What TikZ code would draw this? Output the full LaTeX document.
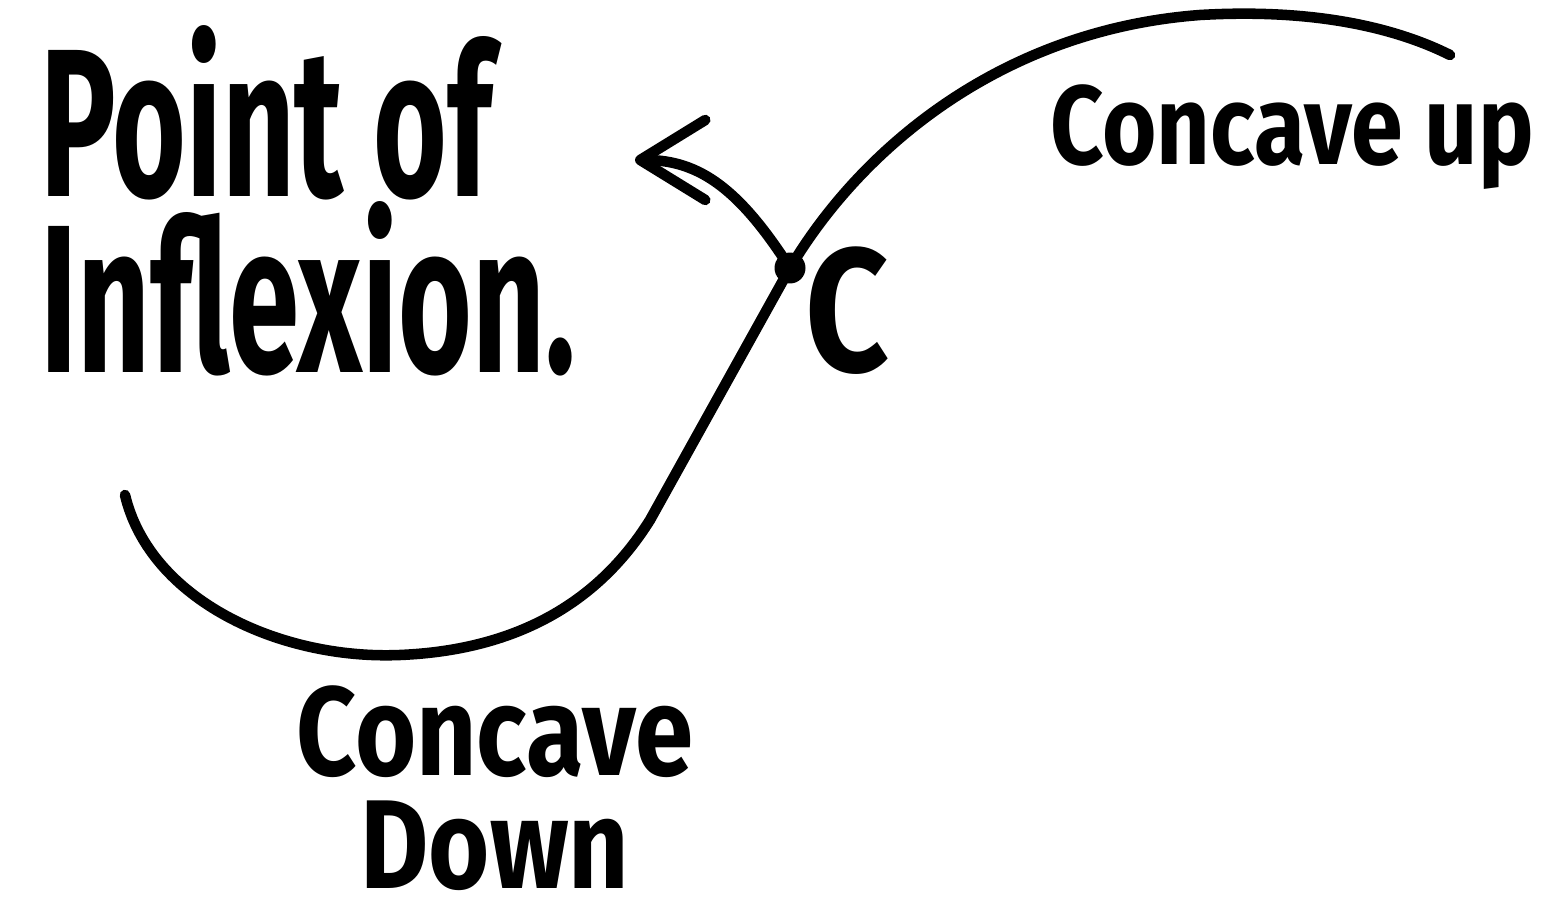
\documentclass[tikz,border=0pt]{standalone}
\usepackage{fontspec}
\newfontfamily\handfont[FakeStretch=0.6]{Fira Sans}
\newfontfamily\widehand[FakeStretch=0.83]{Fira Sans}
\usetikzlibrary{arrows.meta}

\begin{document}
\begin{tikzpicture}[x=0.02cm,y=-0.02cm,
	curve/.style={line width=6pt, line cap=round},
	lbl/.style={inner sep=0pt}]
	\useasboundingbox (0,0) rectangle (1546,898);
	\node[fill, circle, minimum size=0.62cm, inner sep=0pt] (pt) at (790,268) {};
	\coordinate (lo) at (125,495);
	\coordinate (hi) at (1450,55);
	\coordinate (ptr) at (635,160);
	\draw[curve] (lo) .. controls (150,600) and (280,660) .. (400,655)
		.. controls (520,650) and (600,600) .. (650,520) -- (pt.center)
		.. controls (860,150) and (1000,30) .. (1200,15)
		.. controls (1320,8) and (1400,30) .. (hi);
	\draw[curve, -{Straight Barb[round, length=1.3cm, width=1.6cm]}] (pt.center) .. controls (740,190) and (700,160) .. (ptr);
	\node[lbl, anchor=north west, align=left, font=\handfont\bfseries\fontsize{120}{100}\selectfont] (infl) at (40,25) {Point of\\Inflexion.};
	\node[lbl, anchor=base west, font=\widehand\bfseries\fontsize{64}{64}\selectfont] (up) at (1050,165) {Concave up};
	\node[lbl, anchor=base, align=center, font=\widehand\bfseries\fontsize{72}{64}\selectfont] (down) at (495,888) {Concave\\Down};
	\node[lbl, anchor=base west, font=\widehand\bfseries\fontsize{100}{100}\selectfont] (c) at (805,372) {C};
\end{tikzpicture}
\end{document}
